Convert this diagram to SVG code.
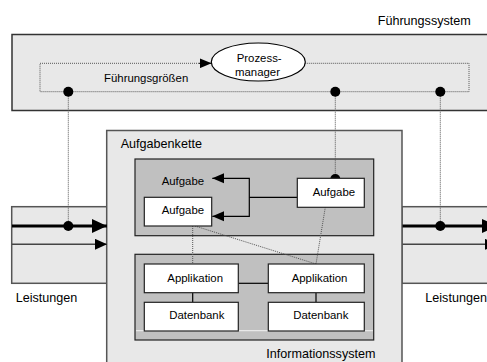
<svg xmlns="http://www.w3.org/2000/svg" width="487" height="362" viewBox="0 0 487 362">
<defs>
<style>
text{font-family:"Liberation Sans",Arial,sans-serif;fill:#000}
.lg{font-size:12.6px}
.sm{font-size:11.4px}
.panel{fill:#e8e8e8;stroke:#555;stroke-width:1.5}
.inner{fill:#c0c0c0;stroke:#222;stroke-width:1.2}
.box{fill:#fff;stroke:#222;stroke-width:1.2}
.dot{stroke:#555;stroke-width:1;stroke-dasharray:1,1;fill:none}
.solid{stroke:#000;stroke-width:1.2;fill:none}
.pt{fill:#000}
</style>
<marker id="ah" viewBox="0 0 12 10" refX="12" refY="5" markerWidth="12" markerHeight="10" markerUnits="userSpaceOnUse" orient="auto"><path d="M0,0 L12,5 L0,10 Z" fill="#000"/></marker>
<marker id="ahb" viewBox="0 0 15 14" refX="15" refY="7" markerWidth="15" markerHeight="14" markerUnits="userSpaceOnUse" orient="auto"><path d="M0,0 L15,7 L0,14 Z" fill="#000"/></marker>
<marker id="ahm" viewBox="0 0 12 11" refX="12" refY="5.5" markerWidth="12" markerHeight="11" markerUnits="userSpaceOnUse" orient="auto"><path d="M0,0 L12,5.5 L0,11 Z" fill="#000"/></marker>
</defs>

<g id="fuehrungssystem">
<rect x="12" y="34.5" width="490" height="76" fill="#e8e8e8" stroke="#333" stroke-width="1.5"/>
<text class="lg" x="377.7" y="25">Führungssystem</text>
</g>

<g id="leistungen-links">
<rect class="panel" x="11.7" y="206.7" width="100" height="76.6"/>
<text class="lg" x="15.7" y="301.7">Leistungen</text>
</g>

<g id="leistungen-rechts">
<rect class="panel" x="402" y="206.7" width="100" height="76.6"/>
<text class="lg" x="425.3" y="301.7">Leistungen</text>
</g>

<g id="aufgabenkette">
<rect class="panel" x="106.7" y="130.5" width="295.3" height="240"/>
<text class="lg" x="120.7" y="147.7">Aufgabenkette</text>
</g>

<g id="aufgabenbereich">
<rect class="inner" x="135" y="159" width="238.7" height="76.7"/>
<text class="sm" x="161.7" y="185">Aufgabe</text>
</g>

<g id="informationsbereich">
<rect class="inner" x="135" y="254.3" width="238.7" height="85.7"/>
<line x1="136" y1="330.7" x2="373" y2="330.7" stroke="#f2f2f2" stroke-width="1"/>
<text class="lg" x="266.3" y="358.3">Informationssystem</text>
</g>

<g id="connectors">
<!-- Führungsgrößen loop -->
<path class="dot" d="M199,63.3 L40,63.3 L40,91.7 L469,91.7 L469,63.3 L305,63.3"/>
<line x1="199" y1="63.3" x2="211.5" y2="63.3" stroke="#000" stroke-width="1" marker-end="url(#ah)"/>
<line class="dot" x1="68.3" y1="91.7" x2="68.3" y2="226"/>
<line class="dot" x1="335.3" y1="91.7" x2="335.3" y2="179"/>
<line class="dot" x1="440.3" y1="91.7" x2="440.3" y2="226"/>
<circle class="pt" cx="68.3" cy="91.7" r="5"/>
<circle class="pt" cx="335.3" cy="91.7" r="5"/>
<circle class="pt" cx="440.3" cy="91.7" r="5"/>
<!-- Leistungen flows -->
<line x1="12" y1="226" x2="107" y2="226" stroke="#000" stroke-width="3" marker-end="url(#ahb)"/>
<line x1="12" y1="244.3" x2="107" y2="244.3" stroke="#444" stroke-width="1.5" marker-end="url(#ahm)"/>
<line x1="402.5" y1="226" x2="497" y2="226" stroke="#000" stroke-width="3" marker-end="url(#ahb)"/>
<line x1="402.5" y1="244.3" x2="497" y2="244.3" stroke="#444" stroke-width="1.5" marker-end="url(#ahm)"/>
<circle class="pt" cx="68.3" cy="226" r="5"/>
<circle class="pt" cx="440.3" cy="226" r="5"/>
<!-- Aufgabe bracket -->
<path class="solid" d="M297.3,197.3 L249.3,197.3"/>
<path class="solid" d="M212.3,178.3 L249.3,178.3 L249.3,216.3 L212.3,216.3"/>
<path d="M224,173.3 L212.3,178.3 L224,183.3 Z" fill="#000"/>
<path d="M224,211.3 L212.3,216.3 L224,221.3 Z" fill="#000"/>
<circle class="pt" cx="335.3" cy="179" r="5"/>
<!-- Aufgabe to Applikation -->
<line class="dot" x1="192.7" y1="226" x2="192.7" y2="264"/>
<line class="dot" x1="195" y1="226" x2="316" y2="264"/>
<line class="dot" x1="325.3" y1="207.3" x2="316" y2="264"/>
<!-- Applikation / Datenbank -->
<line class="solid" x1="238.3" y1="283.3" x2="268.3" y2="283.3"/>
<line class="solid" x1="192.7" y1="292.7" x2="192.7" y2="302.3"/>
<line class="solid" x1="316" y1="292.7" x2="316" y2="302.3"/>
</g>

<g id="prozessmanager">
<ellipse cx="258.3" cy="62" rx="47" ry="19" fill="#fff" stroke="#000" stroke-width="1.2"/>
<text class="sm" x="236.7" y="61.7">Prozess-</text>
<text class="sm" x="235" y="76">manager</text>
</g>

<g id="fuehrungsgroessen">
<text class="sm" x="104" y="81.7">Führungsgrößen</text>
</g>

<g id="aufgabe-links">
<rect class="box" x="144.3" y="197.3" width="67.4" height="28.7"/>
<text class="sm" x="161.7" y="214.3">Aufgabe</text>
</g>

<g id="aufgabe-rechts">
<rect class="box" x="297.3" y="178.3" width="67" height="29"/>
<text class="sm" x="312.7" y="196">Aufgabe</text>
</g>

<g id="applikation-links">
<rect class="box" x="144.3" y="264" width="94" height="28.7"/>
<text class="sm" x="167.3" y="281.7">Applikation</text>
</g>

<g id="datenbank-links">
<rect class="box" x="144.3" y="302.3" width="94" height="28.7"/>
<text class="sm" x="169.3" y="319.3">Datenbank</text>
</g>

<g id="applikation-rechts">
<rect class="box" x="268.3" y="264" width="96" height="28.7"/>
<text class="sm" x="291.7" y="281.7">Applikation</text>
</g>

<g id="datenbank-rechts">
<rect class="box" x="268.3" y="302.3" width="96" height="28.7"/>
<text class="sm" x="293.3" y="319.3">Datenbank</text>
</g>
</svg>
